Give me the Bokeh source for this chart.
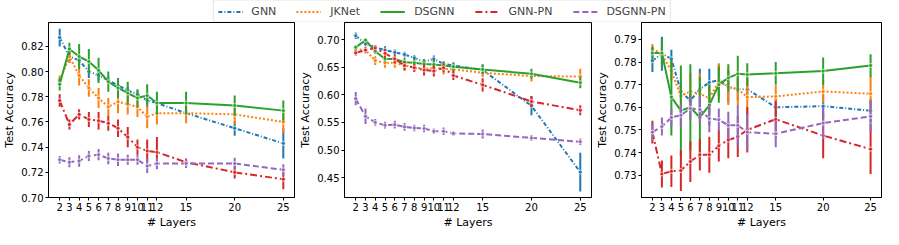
from bokeh.plotting import figure
from bokeh.layouts import column, row
from bokeh.models import ColumnDataSource, FixedTicker, Range1d, Legend, LegendItem, PrintfTickFormatter
from bokeh.embed import file_html
from bokeh.resources import INLINE

layers = [2, 3, 4, 5, 6, 7, 8, 9, 10, 11, 12, 15, 20, 25]
series = ["GNN", "JKNet", "DSGNN", "GNN-PN", "DSGNN-PN"]

# Panel 1
p1_gnn = [0.827, 0.812, 0.809, 0.800, 0.797, 0.793, 0.789, 0.785, 0.782, 0.777, 0.775, 0.767, 0.755, 0.743]
p1_gnn_err = [0.007, 0.005, 0.004, 0.005, 0.004, 0.003, 0.003, 0.003, 0.003, 0.003, 0.003, 0.003, 0.006, 0.012]
p1_jk = [0.793, 0.812, 0.797, 0.787, 0.779, 0.772, 0.776, 0.774, 0.772, 0.764, 0.767, 0.767, 0.766, 0.760]
p1_jk_err = [0.004, 0.005, 0.008, 0.007, 0.008, 0.007, 0.009, 0.008, 0.008, 0.009, 0.009, 0.008, 0.008, 0.009]
p1_ds = [0.790, 0.818, 0.812, 0.808, 0.801, 0.792, 0.787, 0.783, 0.779, 0.781, 0.775, 0.775, 0.773, 0.769]
p1_ds_err = [0.005, 0.005, 0.010, 0.010, 0.010, 0.008, 0.008, 0.009, 0.007, 0.009, 0.009, 0.009, 0.008, 0.008]
p1_pn = [0.777, 0.758, 0.766, 0.762, 0.761, 0.759, 0.755, 0.748, 0.740, 0.737, 0.736, 0.728, 0.720, 0.7145]
p1_pn_err = [0.005, 0.004, 0.004, 0.006, 0.007, 0.006, 0.007, 0.008, 0.006, 0.009, 0.012, 0.003, 0.005, 0.008]
p1_dspn = [0.730, 0.728, 0.729, 0.733, 0.734, 0.731, 0.730, 0.730, 0.730, 0.725, 0.727, 0.727, 0.727, 0.722]
p1_dspn_err = [0.003, 0.004, 0.0045, 0.004, 0.0045, 0.0045, 0.005, 0.004, 0.004, 0.0055, 0.0045, 0.0035, 0.0045, 0.0045]

# Panel 2
p2_gnn = [0.707, 0.692, 0.686, 0.681, 0.677, 0.673, 0.667, 0.660, 0.665, 0.656, 0.653, 0.645, 0.580, 0.460]
p2_gnn_err = [0.006, 0.004, 0.004, 0.007, 0.005, 0.005, 0.005, 0.004, 0.006, 0.004, 0.004, 0.010, 0.017, 0.035]
p2_jk = [0.683, 0.681, 0.662, 0.658, 0.658, 0.653, 0.650, 0.647, 0.649, 0.647, 0.646, 0.640, 0.634, 0.633]
p2_jk_err = [0.005, 0.006, 0.008, 0.009, 0.009, 0.010, 0.008, 0.010, 0.010, 0.010, 0.008, 0.008, 0.010, 0.014]
p2_ds = [0.686, 0.699, 0.679, 0.665, 0.665, 0.659, 0.658, 0.656, 0.655, 0.653, 0.651, 0.646, 0.638, 0.622]
p2_ds_err = [0.004, 0.004, 0.005, 0.005, 0.005, 0.008, 0.008, 0.009, 0.009, 0.008, 0.008, 0.009, 0.009, 0.010]
p2_pn = [0.676, 0.681, 0.685, 0.675, 0.665, 0.653, 0.649, 0.645, 0.643, 0.649, 0.635, 0.618, 0.588, 0.572]
p2_pn_err = [0.005, 0.005, 0.005, 0.008, 0.008, 0.008, 0.007, 0.010, 0.010, 0.008, 0.008, 0.012, 0.010, 0.009]
p2_dspn = [0.593, 0.561, 0.550, 0.545, 0.546, 0.542, 0.540, 0.539, 0.534, 0.534, 0.530, 0.529, 0.522, 0.515]
p2_dspn_err = [0.012, 0.014, 0.006, 0.006, 0.007, 0.007, 0.006, 0.007, 0.005, 0.007, 0.004, 0.008, 0.005, 0.006]

# Panel 3
p3_gnn = [0.7806, 0.7837, 0.7814, 0.767, 0.763, 0.768, 0.771, 0.772, 0.769, 0.768, 0.768, 0.760, 0.7605, 0.7585]
p3_gnn_err = [0.005, 0.0075, 0.004, 0.004, 0.003, 0.009, 0.006, 0.007, 0.007, 0.005, 0.005, 0.005, 0.005, 0.005]
p3_jk = [0.786, 0.7835, 0.776, 0.765, 0.767, 0.766, 0.764, 0.7715, 0.769, 0.768, 0.7645, 0.7648, 0.767, 0.766]
p3_jk_err = [0.002, 0.003, 0.004, 0.005, 0.008, 0.009, 0.006, 0.008, 0.008, 0.007, 0.008, 0.005, 0.005, 0.008]
p3_ds = [0.784, 0.784, 0.7645, 0.7585, 0.760, 0.7555, 0.761, 0.770, 0.773, 0.7748, 0.7745, 0.775, 0.776, 0.7785]
p3_ds_err = [0.003, 0.006, 0.017, 0.020, 0.019, 0.018, 0.009, 0.008, 0.006, 0.008, 0.005, 0.005, 0.006, 0.005]
p3_pn = [0.749, 0.7305, 0.7317, 0.732, 0.736, 0.739, 0.739, 0.743, 0.7455, 0.747, 0.750, 0.7547, 0.7475, 0.7415]
p3_pn_err = [0.005, 0.006, 0.007, 0.009, 0.009, 0.007, 0.008, 0.007, 0.008, 0.009, 0.010, 0.008, 0.010, 0.011]
p3_dspn = [0.749, 0.7515, 0.7555, 0.7565, 0.7595, 0.759, 0.755, 0.7545, 0.752, 0.752, 0.749, 0.7483, 0.753, 0.756]
p3_dspn_err = [0.004, 0.004, 0.004, 0.005, 0.005, 0.006, 0.006, 0.005, 0.006, 0.009, 0.008, 0.006, 0.007, 0.007]

y_ticks_1 = [0.70, 0.72, 0.74, 0.76, 0.78, 0.80, 0.82]
y_ticks_2 = [0.45, 0.50, 0.55, 0.60, 0.65, 0.70]
y_ticks_3 = [0.73, 0.74, 0.75, 0.76, 0.77, 0.78, 0.79]

colors = ["#1f77b4", "#ff7f0e", "#2ca02c", "#d62728", "#9467bd"]
dashes = ["4 2 1 2", "2 2", "solid", "7 3 2 3", "6 3"]
FONT = "DejaVu Sans"

panels = [
    ([p1_gnn, p1_jk, p1_ds, p1_pn, p1_dspn], [p1_gnn_err, p1_jk_err, p1_ds_err, p1_pn_err, p1_dspn_err], (0.70, 0.839), y_ticks_1),
    ([p2_gnn, p2_jk, p2_ds, p2_pn, p2_dspn], [p2_gnn_err, p2_jk_err, p2_ds_err, p2_pn_err, p2_dspn_err], (0.414, 0.731), y_ticks_2),
    ([p3_gnn, p3_jk, p3_ds, p3_pn, p3_dspn], [p3_gnn_err, p3_jk_err, p3_ds_err, p3_pn_err, p3_dspn_err], (0.7201, 0.7975), y_ticks_3),
]

widths = [296, 297, 290]
figs = []
for (vals, errs, yr, yt), w in zip(panels, widths):
    p = figure(width=w, height=209, output_backend="svg", toolbar_location=None,
               x_range=Range1d(0.85, 26.15), y_range=Range1d(*yr),
               min_border_top=0, min_border_right=2, min_border_left=0, min_border_bottom=0)
    p.grid.visible = False
    p.outline_line_color = "black"
    p.outline_line_width = 1
    p.background_fill_color = "white"
    p.border_fill_color = "white"
    for v, e, c, d in zip(vals, errs, colors, dashes):
        src = ColumnDataSource(dict(x=layers, y=v,
                                    lo=[a - b for a, b in zip(v, e)],
                                    hi=[a + b for a, b in zip(v, e)]))
        p.line("x", "y", source=src, line_color=c, line_width=2, line_dash=d)
        p.segment(x0="x", y0="lo", x1="x", y1="hi", source=src, line_color=c, line_width=2)
        p.scatter("x", "y", source=src, size=4, fill_color=c, line_color="white", line_width=0.7)
    p.xaxis.ticker = FixedTicker(ticks=layers)
    p.yaxis.ticker = FixedTicker(ticks=yt)
    p.yaxis.formatter = PrintfTickFormatter(format="%.2f")
    p.xaxis.axis_label = "# Layers"
    p.yaxis.axis_label = "Test Accuracy"
    for ax in (p.xaxis, p.yaxis):
        ax.axis_label_text_font = FONT
        ax.axis_label_text_font_size = "11px"
        ax.axis_label_text_font_style = "normal"
        ax.axis_label_text_color = "black"
        ax.axis_label_standoff = 2
        ax.major_label_text_font = FONT
        ax.major_label_text_font_size = "10px"
        ax.major_label_text_color = "black"
        ax.major_label_standoff = 2
        ax.major_tick_out = 3
        ax.major_tick_in = 0
        ax.minor_tick_out = 0
        ax.minor_tick_in = 0
        ax.axis_line_color = "black"
        ax.major_tick_line_color = "black"
    figs.append(p)

# Legend strip: series drawn outside the visible x range so only the legend shows
lf = figure(width=883, height=22, output_backend="svg", toolbar_location=None,
            x_range=Range1d(0, 1), y_range=Range1d(0, 1),
            min_border=0)
lf.axis.visible = False
lf.grid.visible = False
lf.outline_line_color = None
items = []
for name, v, c, d in zip(series, panels[0][0], colors, dashes):
    r = lf.line(x=layers, y=v, line_color=c, line_width=2, line_dash=d)
    items.append(LegendItem(label=name, renderers=[r]))
leg = Legend(items=items, orientation="horizontal", location="center",
             label_text_font=FONT, label_text_font_size="11px",
             glyph_width=25, glyph_height=12, label_standoff=9, spacing=20,
             padding=4, margin=0, border_line_color="#cccccc", border_line_width=1,
             label_height=12)
lf.add_layout(leg, "center")

layout = column(lf, row(*figs, spacing=0), spacing=0)
open("out.html", "w").write(file_html(layout, INLINE))
